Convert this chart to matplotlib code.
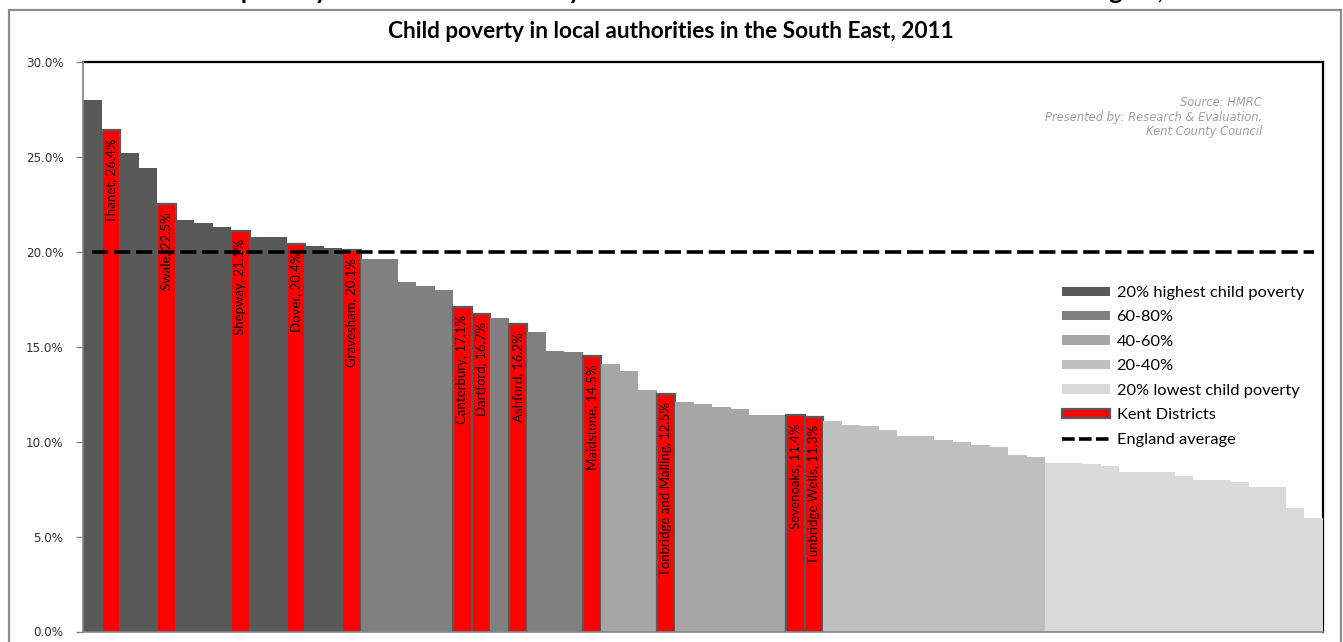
import matplotlib
matplotlib.use("Agg")
import matplotlib.pyplot as plt
from matplotlib.patches import Patch, Rectangle
from matplotlib.lines import Line2D
from matplotlib.ticker import FuncFormatter

# ---------------- data ----------------
values = [28.0, 26.4, 25.2, 24.4, 22.5, 21.7, 21.5, 21.3, 21.1, 20.8,
          20.8, 20.4, 20.3, 20.2, 20.1, 19.6, 19.6, 18.4, 18.2, 18.0,
          17.1, 16.7, 16.5, 16.2, 15.8, 14.8, 14.7, 14.5, 14.1, 13.7,
          12.7, 12.5, 12.1, 12.0, 11.8, 11.7, 11.4, 11.4, 11.4, 11.3,
          11.1, 10.9, 10.8, 10.6, 10.3, 10.3, 10.1, 10.0, 9.8, 9.7,
          9.3, 9.2, 8.9, 8.9, 8.8, 8.7, 8.4, 8.4, 8.4, 8.2,
          8.0, 8.0, 7.9, 7.6, 7.6, 6.5, 6.0]

# quintile band of each authority (0 = highest child poverty ... 4 = lowest)
bands = [0] * 15 + [1] * 13 + [2] * 12 + [3] * 12 + [4] * 15

# Kent districts (label text; '' = not a Kent district)
kent_labels = ['', 'Thanet', '', '', 'Swale', '', '', '', 'Shepway', '',
               '', 'Dover', '', '', 'Gravesham', '', '', '', '', '',
               'Canterbury', 'Dartford', '', 'Ashford', '', '', '', 'Maidstone', '', '',
               '', 'Tonbridge and Malling', '', '', '', '', '', '', 'Sevenoaks', 'Tunbridge Wells',
               '', '', '', '', '', '', '', '', '', '',
               '', '', '', '', '', '', '', '', '', '',
               '', '', '', '', '', '', '']

band_names = ['20% highest child poverty', '60-80%', '40-60%', '20-40%',
              '20% lowest child poverty']
england_average = 20.0
y_ticks = [0, 5, 10, 15, 20, 25, 30]

# ---------------- style ----------------
band_colors = ['#595959', '#808080', '#a6a6a6', '#bfbfbf', '#d9d9d9']
kent_color = '#ff0000'
kent_edge = '#595959'

W, H = 1343, 642
fig = plt.figure(figsize=(W / 100, H / 100), dpi=100)
fig.patch.set_facecolor('white')

# outer frame of the chart object
fig.add_artist(Rectangle((9 / W, -0.05), (1341 - 9) / W, 1.05 - 10 / H,
                         transform=fig.transFigure, fill=False,
                         edgecolor='#8c8c8c', linewidth=1.6))

# heading above the chart, cropped by the top edge (only descenders show)
fig.text(177 / W, 1 + 1.0 / H,
         'Child poverty in Kent local authority districts and other districts in the South East region, 2011',
         fontsize=18, fontweight='bold', family='Lato', ha='left', va='baseline',
         color='black')

ax = fig.add_axes([83 / W, 1 - 631.5 / H, (1323 - 83) / W, (631.5 - 62) / H])

x = list(range(len(values)))
colors = [kent_color if kent_labels[i] else band_colors[bands[i]] for i in x]
edges = [kent_edge if kent_labels[i] else 'none' for i in x]
lws = [1.6 if kent_labels[i] else 0 for i in x]
ax.bar(x, values, width=1.0, color=colors, edgecolor=edges, linewidth=lws,
       zorder=2)

for i in x:
    if kent_labels[i]:
        ax.text(i, values[i] - 0.42, f'{kent_labels[i]}, {values[i]:.1f}%',
                rotation=90, ha='center', va='top', fontsize=9.5,
                family='Lato', color='black', zorder=4)

ax.plot(x, [england_average] * len(x), color='black', linestyle=(0, (4.5, 1.6)),
        linewidth=2.6, zorder=3)

ax.set_xlim(-0.5, len(values) - 0.5)
ax.set_ylim(0, 30)
ax.set_yticks(y_ticks)
ax.yaxis.set_major_formatter(FuncFormatter(lambda v, p: f'{v:.1f}%'))
ax.tick_params(axis='y', length=5, width=1, color='#868686', labelsize=8.6,
               labelcolor='#303030', pad=9)
for lbl in ax.get_yticklabels():
    lbl.set_family('DejaVu Sans')
ax.set_xticks([])

for side in ['top', 'right']:
    ax.spines[side].set_color('black')
    ax.spines[side].set_linewidth(1.6)
    ax.spines[side].set_zorder(1)
for side in ['left', 'bottom']:
    ax.spines[side].set_color('#868686')
    ax.spines[side].set_linewidth(1.2)
    ax.spines[side].set_zorder(5)

# inner chart title
fig.text(671 / W, 1 - 31 / H, 'Child poverty in local authorities in the South East, 2011',
         fontsize=16.3, fontweight='bold', family='Lato', ha='center', va='center')

# source note
src = ['Source: HMRC', 'Presented by: Research & Evaluation,', 'Kent County Council']
for k, s in enumerate(src):
    fig.text(1262 / W, 1 - (103 + 14.5 * k) / H, s, fontsize=8.3, style='italic',
             family='DejaVu Sans', color='#a0a0a0', ha='right', va='center')

# legend
handles = [Patch(facecolor=c, edgecolor='none') for c in band_colors]
handles.append(Patch(facecolor=kent_color, edgecolor=kent_edge, linewidth=1.6))
handles.append(Line2D([0], [0], color='black', linestyle=(0, (3.5, 1.2)), linewidth=2.6))
labels = band_names + ['Kent Districts', 'England average']
leg = fig.legend(handles, labels, loc='upper left',
                 bbox_to_anchor=(1062 / W, 1 - 286 / H), frameon=False,
                 prop={'family': 'Lato', 'size': 11.8}, handlelength=2.95,
                 handleheight=0.5, handletextpad=0.38, labelspacing=0.64,
                 borderpad=0, borderaxespad=0)

fig.savefig('out.png', dpi=100)
